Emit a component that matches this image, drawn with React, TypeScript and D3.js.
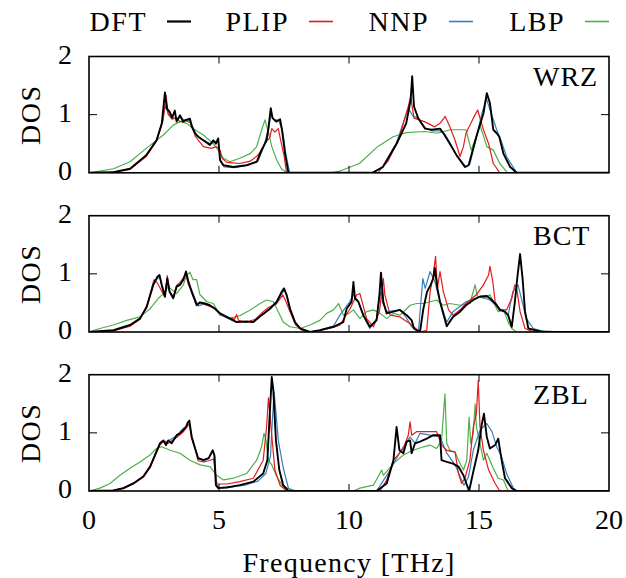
import { useEffect, useRef } from 'react';
import * as d3 from 'd3';

// phonon DOS, [frequency THz, DOS]
const wrzDft = [[0,0],[0.94,0.01],[1.58,0.07],[2.2,0.3],[2.6,0.56],[2.8,0.85],[2.92,1.38],[3.0,1.1],[3.1,1.05],[3.2,0.95],[3.3,1.07],[3.37,0.88],[3.5,0.99],[3.62,0.88],[3.73,0.91],[3.88,0.93],[3.95,0.8],[4.08,0.68],[4.2,0.62],[4.4,0.56],[4.65,0.48],[4.78,0.56],[4.88,0.5],[4.97,0.59],[5.04,0.22],[5.17,0.13],[5.55,0.1],[6.06,0.13],[6.45,0.19],[6.64,0.39],[6.83,0.56],[6.9,0.76],[6.99,1.11],[7.06,0.94],[7.2,0.88],[7.35,0.92],[7.42,0.75],[7.54,0.33],[7.67,0],[10.9,0],[11.3,0.1],[11.83,0.5],[12.2,0.85],[12.37,1.25],[12.43,1.66],[12.5,1.14],[12.66,0.94],[12.92,0.76],[13.18,0.74],[13.5,0.76],[13.63,0.68],[13.88,0.5],[14.14,0.3],[14.46,0.1],[14.6,0.13],[14.9,0.62],[15.17,1.02],[15.3,1.37],[15.42,1.2],[15.55,0.74],[15.68,0.68],[15.78,0.62],[15.94,0.33],[16.2,0.1],[16.45,0],[20,0]];
const wrzPlip = [[0,0],[0.94,0.01],[1.58,0.06],[2.2,0.28],[2.6,0.55],[2.85,0.9],[2.96,1.34],[3.05,1.0],[3.2,0.92],[3.35,0.95],[3.5,0.88],[3.7,0.9],[3.9,0.86],[4.1,0.62],[4.4,0.45],[4.7,0.42],[4.9,0.45],[5.04,0.39],[5.12,0.25],[5.3,0.18],[5.8,0.16],[6.2,0.2],[6.5,0.3],[6.7,0.45],[6.85,0.56],[6.95,0.6],[7.03,0.76],[7.15,0.7],[7.28,0.76],[7.4,0.5],[7.5,0.3],[7.6,0],[11.1,0],[11.5,0.2],[11.9,0.56],[12.28,1.14],[12.37,1.31],[12.5,0.94],[12.9,0.88],[13.3,0.79],[13.5,0.85],[13.7,0.97],[13.88,0.79],[14.08,0.56],[14.27,0.28],[14.4,0.45],[14.5,0.68],[14.78,0.94],[14.95,1.08],[15.17,0.74],[15.37,0.5],[15.55,0.16],[15.8,0],[20,0]];
const wrzNnp = [[0,0],[0.94,0.01],[1.58,0.07],[2.2,0.3],[2.6,0.57],[2.8,0.85],[2.93,1.15],[3.05,1.02],[3.2,0.95],[3.35,0.92],[3.5,0.95],[3.7,0.9],[3.9,0.9],[4.1,0.66],[4.4,0.55],[4.7,0.5],[4.97,0.57],[5.05,0.2],[5.2,0.1],[5.6,0.09],[6.1,0.13],[6.5,0.2],[6.7,0.42],[6.9,0.75],[7.0,1.0],[7.1,0.92],[7.3,0.9],[7.45,0.7],[7.58,0.3],[7.72,0],[10.9,0],[11.3,0.1],[11.83,0.52],[12.28,1.11],[12.45,0.98],[12.66,0.94],[12.92,0.78],[13.2,0.72],[13.5,0.72],[13.7,0.66],[13.9,0.5],[14.14,0.3],[14.5,0.1],[14.65,0.15],[14.9,0.62],[15.1,1.0],[15.28,1.28],[15.45,1.05],[15.68,0.74],[15.85,0.55],[16.06,0.28],[16.45,0],[20,0]];
const wrzLbp = [[0,0],[0.94,0.07],[1.58,0.19],[2.2,0.42],[2.86,0.65],[3.24,0.82],[3.5,0.88],[3.76,0.85],[4.0,0.76],[4.4,0.65],[4.78,0.5],[4.97,0.39],[5.17,0.25],[5.42,0.19],[5.8,0.25],[6.2,0.33],[6.45,0.45],[6.64,0.74],[6.77,0.91],[6.9,0.7],[7.03,0.45],[7.22,0.22],[7.4,0.07],[7.6,0],[9.3,0],[9.65,0.03],[10.4,0.16],[11.1,0.45],[11.7,0.62],[12.2,0.69],[12.9,0.71],[13.4,0.68],[13.9,0.74],[14.5,0.74],[14.7,0.39],[15.04,0.82],[15.3,0.45],[15.55,0.39],[15.8,0.16],[16.1,0],[20,0]];

const bctDft = [[0,0],[0.94,0.03],[1.58,0.12],[1.96,0.23],[2.22,0.43],[2.47,0.81],[2.63,0.95],[2.71,0.98],[2.8,0.81],[2.92,0.61],[3.01,0.92],[3.1,0.69],[3.24,0.58],[3.37,0.78],[3.5,0.81],[3.63,0.9],[3.73,1.04],[3.82,0.87],[3.95,0.69],[4.14,0.46],[4.27,0.51],[4.46,0.49],[4.65,0.46],[4.85,0.4],[5.04,0.32],[5.3,0.26],[5.68,0.17],[6.06,0.18],[6.32,0.17],[6.64,0.29],[6.96,0.4],[7.22,0.52],[7.41,0.69],[7.5,0.75],[7.6,0.64],[7.73,0.4],[7.92,0.17],[8.12,0.06],[8.5,0],[8.88,0.03],[9.4,0.09],[9.78,0.17],[9.91,0.4],[10.1,0.52],[10.17,0.86],[10.23,0.58],[10.36,0.52],[10.55,0.29],[10.8,0.09],[11.06,0.2],[11.17,0.64],[11.23,1.02],[11.32,0.52],[11.45,0.32],[11.71,0.35],[11.96,0.38],[12.22,0.29],[12.41,0.2],[12.5,0.06],[12.73,0],[12.86,0.4],[13.0,0.69],[13.14,0.81],[13.24,0.92],[13.3,1.1],[13.4,0.75],[13.5,0.52],[13.76,0.1],[14.0,0.26],[14.27,0.35],[14.5,0.46],[14.78,0.55],[15.04,0.61],[15.3,0.62],[15.5,0.55],[15.68,0.46],[15.8,0.38],[16.0,0.35],[16.12,0.29],[16.26,0.09],[16.38,0.52],[16.47,0.92],[16.58,1.34],[16.68,0.9],[16.77,0.35],[16.9,0.06],[17.35,0.01],[17.9,0],[20,0]];
const bctPlip = [[0,0],[0.94,0.02],[1.58,0.1],[1.96,0.22],[2.22,0.45],[2.5,0.9],[2.62,0.85],[2.8,0.7],[2.92,0.6],[3.01,0.97],[3.1,0.7],[3.24,0.6],[3.37,0.8],[3.5,0.85],[3.73,1.0],[3.82,0.82],[3.95,0.7],[4.14,0.48],[4.3,0.5],[4.6,0.45],[4.85,0.4],[5.04,0.32],[5.3,0.25],[5.6,0.22],[5.68,0.3],[5.75,0.2],[6.06,0.17],[6.4,0.22],[6.7,0.35],[6.9,0.42],[7.2,0.48],[7.45,0.64],[7.55,0.55],[7.73,0.35],[7.95,0.12],[8.2,0.03],[8.5,0],[8.88,0.03],[9.4,0.08],[9.65,0.12],[10.04,0.4],[10.3,0.64],[10.42,0.66],[10.68,0.23],[10.94,0.09],[11.17,0.35],[11.32,0.92],[11.38,0.64],[11.58,0.29],[11.96,0.26],[12.35,0.14],[12.73,0],[12.99,0.03],[13.12,0.69],[13.24,0.98],[13.33,1.3],[13.4,0.75],[13.5,1.04],[13.63,0.69],[13.83,0.38],[14.0,0.29],[14.27,0.38],[14.5,0.49],[14.9,0.64],[15.17,0.81],[15.37,0.98],[15.42,1.13],[15.53,0.87],[15.62,0.52],[15.8,0.38],[16.06,0.38],[16.26,0.58],[16.38,0.81],[16.44,0.78],[16.58,0.35],[16.77,0.06],[17.09,0],[20,0]];
const bctNnp = [[0,0],[0.94,0.03],[1.58,0.12],[1.96,0.23],[2.22,0.44],[2.47,0.8],[2.63,0.92],[2.72,0.94],[2.8,0.78],[2.92,0.62],[3.01,0.9],[3.1,0.7],[3.24,0.6],[3.37,0.78],[3.5,0.82],[3.73,1.0],[3.85,0.8],[3.95,0.72],[4.1,0.55],[4.2,0.45],[4.4,0.48],[4.65,0.45],[4.85,0.4],[5.04,0.3],[5.3,0.24],[5.6,0.18],[6.0,0.18],[6.32,0.18],[6.64,0.3],[6.96,0.4],[7.22,0.52],[7.41,0.66],[7.52,0.72],[7.62,0.6],[7.75,0.38],[7.95,0.15],[8.2,0.04],[8.5,0],[8.88,0.03],[9.4,0.1],[9.65,0.29],[10.0,0.5],[10.17,0.64],[10.36,0.52],[10.55,0.28],[10.8,0.06],[11.06,0.23],[11.2,0.69],[11.3,0.5],[11.45,0.35],[11.96,0.38],[12.2,0.25],[12.41,0.09],[12.67,0],[12.84,0.92],[12.93,0.75],[13.12,1.04],[13.3,0.87],[13.5,0.52],[13.76,0.17],[14.0,0.35],[14.5,0.52],[15.04,0.61],[15.42,0.55],[15.8,0.4],[16.12,0.29],[16.3,0.69],[16.5,0.81],[16.63,0.58],[16.82,0.23],[17.09,0.06],[17.6,0],[20,0]];
const bctLbp = [[0,0],[0.42,0.06],[0.94,0.12],[1.45,0.2],[1.96,0.26],[2.35,0.4],[2.67,0.58],[2.86,0.66],[3.05,0.78],[3.37,0.66],[3.63,0.81],[3.76,0.98],[3.88,1.03],[4.0,0.9],[4.14,0.9],[4.27,0.64],[4.53,0.52],[4.78,0.49],[5.04,0.29],[5.42,0.24],[5.8,0.28],[6.2,0.38],[6.58,0.49],[6.83,0.55],[7.09,0.52],[7.28,0.35],[7.47,0.17],[7.73,0.09],[8.12,0.06],[8.5,0.12],[8.88,0.2],[9.14,0.32],[9.4,0.38],[9.6,0.49],[9.78,0.29],[10.0,0.32],[10.17,0.38],[10.42,0.23],[10.68,0.35],[10.94,0.38],[11.2,0.32],[11.45,0.23],[11.71,0.32],[11.96,0.29],[12.22,0.4],[12.35,0.46],[12.6,0.49],[12.86,0.49],[13.12,0.52],[13.37,0.55],[13.63,0.46],[13.88,0.49],[14.27,0.46],[14.65,0.49],[14.85,0.81],[14.94,0.61],[15.17,0.58],[15.42,0.64],[15.55,0.52],[15.74,0.35],[15.94,0.38],[16.12,0.17],[16.26,0.06],[16.45,0],[20,0]];

const zblDft = [[0,0],[0.94,0.01],[1.32,0.05],[1.7,0.13],[2.09,0.25],[2.35,0.42],[2.54,0.62],[2.73,0.82],[2.86,0.87],[2.96,0.79],[3.05,0.87],[3.18,0.82],[3.37,0.96],[3.5,0.99],[3.63,1.05],[3.73,1.1],[3.78,1.16],[3.86,1.21],[3.95,0.93],[4.08,0.73],[4.2,0.56],[4.4,0.53],[4.6,0.56],[4.76,0.7],[4.82,0.62],[4.88,0.1],[4.97,0.05],[5.3,0.06],[5.8,0.1],[6.32,0.16],[6.7,0.3],[6.86,0.53],[6.96,1.39],[7.03,1.96],[7.09,1.73],[7.19,0.87],[7.32,0.36],[7.47,0.1],[7.67,0],[11.06,0],[11.45,0.13],[11.71,0.53],[11.83,1.1],[11.94,0.7],[12.09,0.65],[12.22,0.85],[12.35,0.87],[12.41,0.65],[12.54,0.82],[12.73,0.85],[12.99,0.9],[13.24,0.96],[13.5,0.96],[13.56,0.53],[13.76,0.5],[14.0,0.47],[14.21,0.42],[14.4,0.27],[14.62,0],[14.78,0.33],[14.97,0.7],[15.1,1.13],[15.19,1.33],[15.3,0.93],[15.42,0.73],[15.62,0.79],[15.74,0.9],[15.87,0.53],[16.0,0.22],[16.26,0.05],[16.45,0],[20,0]];
const zblPlip = [[0,0],[0.94,0.01],[1.32,0.04],[1.7,0.12],[2.09,0.24],[2.35,0.4],[2.54,0.6],[2.73,0.8],[2.86,0.85],[3.05,0.82],[3.37,0.92],[3.63,1.02],[3.8,1.12],[3.86,1.15],[3.95,0.9],[4.1,0.7],[4.2,0.52],[4.4,0.5],[4.6,0.52],[4.8,0.55],[4.86,0.3],[4.92,0.12],[5.3,0.12],[5.8,0.16],[6.32,0.22],[6.7,0.53],[6.83,1.1],[6.9,1.6],[7.0,1.1],[7.15,0.36],[7.35,0.1],[7.6,0],[11.19,0],[11.45,0.19],[11.71,0.53],[12.09,0.73],[12.28,0.96],[12.35,1.19],[12.41,0.96],[12.6,1.02],[12.86,1.02],[13.12,1.02],[13.37,1.02],[13.56,0.79],[13.76,0.7],[14.08,0.67],[14.21,0.3],[14.33,0.13],[14.46,0.22],[14.65,0.53],[14.78,1.1],[14.9,1.33],[14.97,1.9],[15.04,1.1],[15.17,0.7],[15.37,0.36],[15.62,0.13],[15.8,0],[20,0]];
const zblNnp = [[0,0],[0.94,0.01],[1.32,0.05],[1.7,0.12],[2.09,0.25],[2.35,0.42],[2.54,0.62],[2.73,0.8],[2.86,0.85],[3.05,0.86],[3.37,0.95],[3.63,1.08],[3.78,1.12],[3.86,1.15],[3.95,0.95],[4.08,0.75],[4.2,0.57],[4.4,0.54],[4.6,0.57],[4.76,0.68],[4.84,0.6],[4.9,0.1],[5.0,0.06],[5.5,0.07],[6.0,0.1],[6.5,0.17],[6.8,0.3],[6.98,0.6],[7.05,1.2],[7.12,1.7],[7.2,1.3],[7.28,0.87],[7.47,0.4],[7.67,0.05],[7.8,0],[11.06,0],[11.58,0.36],[11.96,0.67],[12.35,0.93],[12.54,0.82],[12.73,0.99],[13.12,0.96],[13.5,0.93],[13.76,0.65],[14.08,0.45],[14.27,0.25],[14.42,0.1],[14.6,0.25],[14.78,0.7],[15.04,1.05],[15.3,1.16],[15.5,1.02],[15.68,0.76],[15.87,0.59],[16.06,0.3],[16.32,0.05],[16.45,0],[20,0]];
const zblLbp = [[0,0],[0.42,0.05],[0.81,0.13],[1.19,0.27],[1.58,0.39],[1.96,0.5],[2.35,0.62],[2.6,0.73],[2.8,0.76],[3.12,0.7],[3.5,0.65],[3.88,0.53],[4.27,0.45],[4.65,0.42],[4.91,0.27],[5.17,0.19],[5.55,0.22],[6.06,0.3],[6.45,0.53],[6.64,0.76],[6.73,0.99],[6.81,0.87],[6.9,0.53],[7.03,0.45],[7.22,0.25],[7.47,0.07],[7.99,0],[10.17,0],[10.42,0.05],[10.94,0.1],[11.26,0.36],[11.32,0.27],[11.71,0.47],[12.09,0.62],[12.47,0.7],[12.86,0.76],[13.12,0.79],[13.37,0.73],[13.56,0.87],[13.69,1.67],[13.76,0.82],[13.88,0.7],[14.08,0.67],[14.21,0.53],[14.4,0.36],[14.53,0.53],[14.62,1.27],[14.68,0.82],[14.78,0.99],[14.85,1.5],[14.9,1.1],[15.04,0.82],[15.17,0.53],[15.3,0.65],[15.55,0.39],[15.74,0.22],[15.94,0.19],[16.12,0],[20,0]];

const phases = ['WRZ', 'BCT', 'ZBL'];
const methods = ['DFT', 'PLIP', 'NNP', 'LBP'];
const colors = ['#000000', '#e41a1c', '#377eb8', '#4daf4a'];
const xTicks = [0, 5, 10, 15, 20];
const yTicks = [0, 1, 2];

const D3Chart = () => {
  const svgRef = useRef(null);

  useEffect(() => {
    const svg = d3.select(svgRef.current);
    svg.selectAll('*').remove();

    const font = "'Liberation Serif', 'DejaVu Serif', 'Times New Roman', serif";
    const fs = 28;
    const panelData = [
      [wrzDft, wrzPlip, wrzNnp, wrzLbp],
      [bctDft, bctPlip, bctNnp, bctLbp],
      [zblDft, zblPlip, zblNnp, zblLbp],
    ];
    const tops = [56.5, 215.7, 374.7];
    const h = 116.3;
    const left = 89, right = 609;

    const x = d3.scaleLinear().domain([0, 20]).range([left, right]);

    // legend
    const legendLines = [167, 309, 449, 585];
    methods.forEach((m, i) => {
      svg.append('text')
        .attr('x', legendLines[i] - 20)
        .attr('y', 31)
        .attr('text-anchor', 'end')
        .style('font-family', font)
        .style('letter-spacing', '1.5px')
        .attr('font-size', fs)
        .text(m);
      svg.append('line')
        .attr('x1', legendLines[i]).attr('x2', legendLines[i] + 24)
        .attr('y1', 21.5).attr('y2', 21.5)
        .attr('stroke', colors[i])
        .attr('stroke-width', i === 0 ? 2.2 : 1.6);
    });

    panelData.forEach((series, p) => {
      const top = tops[p];
      const bottom = top + h;
      const y = d3.scaleLinear().domain([0, 2]).range([bottom, top]);
      const g = svg.append('g');

      const clipId = `clip-${p}`;
      g.append('clipPath').attr('id', clipId)
        .append('rect')
        .attr('x', left).attr('y', top)
        .attr('width', right - left).attr('height', h);

      const line = d3.line()
        .x(d => x(d[0]))
        .y(d => y(d[1]));

      // draw LBP first, DFT on top
      [3, 2, 1, 0].forEach(k => {
        g.append('path')
          .datum(series[k])
          .attr('clip-path', `url(#${clipId})`)
          .attr('fill', 'none')
          .attr('stroke', colors[k])
          .attr('stroke-width', k === 0 ? 1.9 : 1.2)
          .attr('stroke-linejoin', 'round')
          .attr('d', line);
      });

      // frame
      g.append('rect')
        .attr('x', left).attr('y', top)
        .attr('width', right - left).attr('height', h)
        .attr('fill', 'none')
        .attr('stroke', '#000')
        .attr('stroke-width', 1.6);

      // inner ticks
      xTicks.slice(1, -1).forEach(t => {
        g.append('line').attr('x1', x(t)).attr('x2', x(t))
          .attr('y1', bottom).attr('y2', bottom - 7)
          .attr('stroke', '#000').attr('stroke-width', 1);
        g.append('line').attr('x1', x(t)).attr('x2', x(t))
          .attr('y1', top).attr('y2', top + 7)
          .attr('stroke', '#000').attr('stroke-width', 1);
      });
      g.append('line').attr('x1', left).attr('x2', left + 8)
        .attr('y1', y(1)).attr('y2', y(1))
        .attr('stroke', '#000').attr('stroke-width', 1);
      g.append('line').attr('x1', right).attr('x2', right - 8)
        .attr('y1', y(1)).attr('y2', y(1))
        .attr('stroke', '#000').attr('stroke-width', 1);

      yTicks.forEach(t => {
        g.append('text')
          .attr('x', 72)
          .attr('y', y(t) + 7)
          .attr('text-anchor', 'end')
          .style('font-family', font)
          .attr('font-size', fs)
          .text(t);
      });

      g.append('text')
        .attr('transform', `translate(40,${(top + bottom) / 2}) rotate(-90)`)
        .attr('text-anchor', 'middle')
        .style('font-family', font)
        .style('letter-spacing', '1.5px')
        .attr('font-size', fs)
        .text('DOS');

      g.append('text')
        .attr('x', 533)
        .attr('y', top + 29)
        .style('font-family', font)
        .style('letter-spacing', '1px')
        .attr('font-size', fs)
        .text(phases[p]);

      if (p === 2) {
        xTicks.forEach(t => {
          g.append('text')
            .attr('x', x(t))
            .attr('y', 529)
            .attr('text-anchor', 'middle')
            .style('font-family', font)
            .attr('font-size', fs)
            .text(t);
        });
      }
    });

    svg.append('text')
      .attr('x', (left + right) / 2)
      .attr('y', 572)
      .attr('text-anchor', 'middle')
      .style('font-family', font)
      .style('letter-spacing', '1.3px')
      .attr('font-size', fs)
      .text('Frequency [THz]');
  }, []);

  return (
    <svg ref={svgRef} width={626} height={578}
      style={{ position: 'absolute', left: 0, top: 0, background: '#fff' }} />
  );
};

export default function App() {
  return <D3Chart />;
}
